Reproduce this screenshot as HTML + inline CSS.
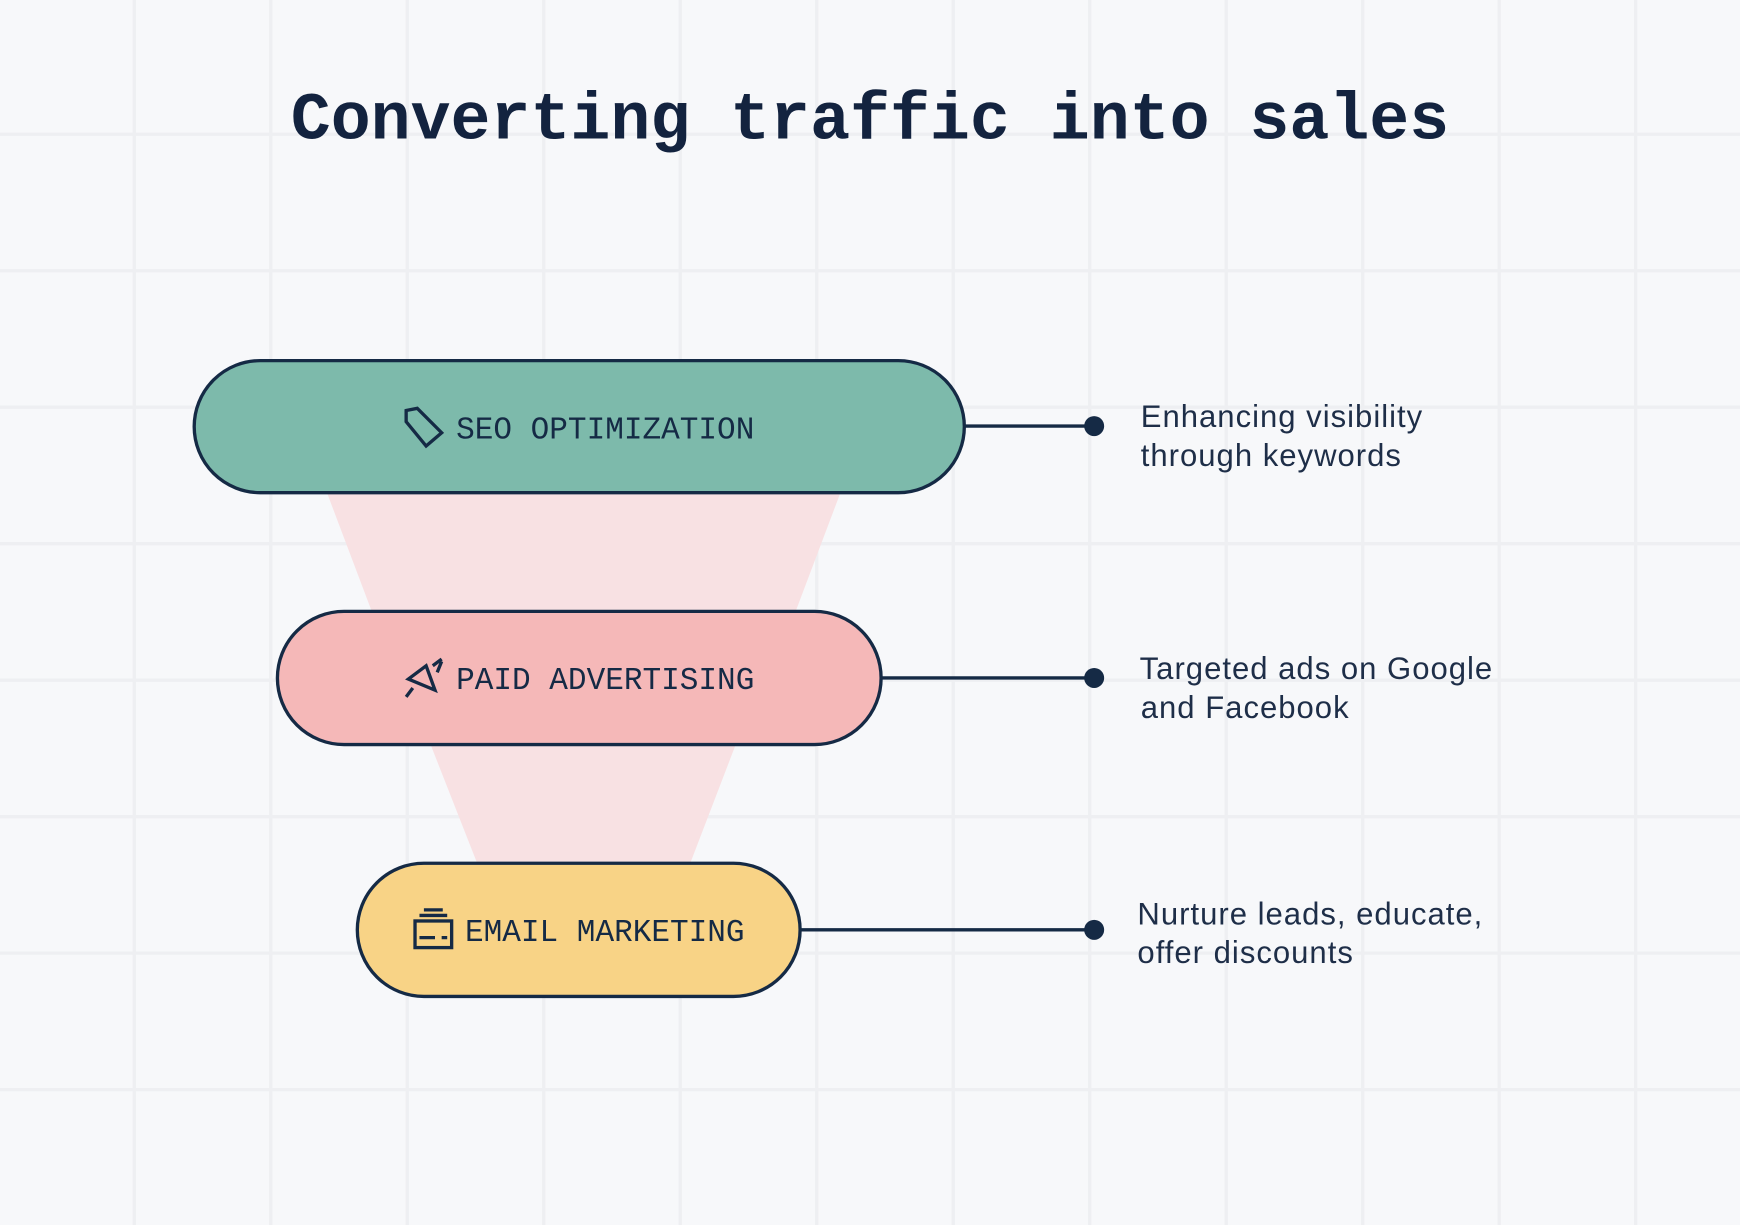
<!DOCTYPE html>
<html><head><meta charset="utf-8"><style>
html,body{margin:0;padding:0;background:#f7f8fa;}
svg{display:block}
</style></head><body>
<svg width="1740" height="1225" viewBox="0 0 1568 1104" preserveAspectRatio="none" xmlns="http://www.w3.org/2000/svg">
<rect width="1568" height="1104" fill="#f7f8fa"/>
<g stroke="#eeeff2" stroke-width="3">
<line x1="121" y1="0" x2="121" y2="1104"/><line x1="244" y1="0" x2="244" y2="1104"/><line x1="367" y1="0" x2="367" y2="1104"/><line x1="490" y1="0" x2="490" y2="1104"/><line x1="613" y1="0" x2="613" y2="1104"/><line x1="736" y1="0" x2="736" y2="1104"/><line x1="859" y1="0" x2="859" y2="1104"/><line x1="982" y1="0" x2="982" y2="1104"/><line x1="1105" y1="0" x2="1105" y2="1104"/><line x1="1228" y1="0" x2="1228" y2="1104"/><line x1="1351" y1="0" x2="1351" y2="1104"/><line x1="1474" y1="0" x2="1474" y2="1104"/>
<line x1="0" y1="121" x2="1568" y2="121"/><line x1="0" y1="244" x2="1568" y2="244"/><line x1="0" y1="367" x2="1568" y2="367"/><line x1="0" y1="490" x2="1568" y2="490"/><line x1="0" y1="613" x2="1568" y2="613"/><line x1="0" y1="736" x2="1568" y2="736"/><line x1="0" y1="859" x2="1568" y2="859"/><line x1="0" y1="982" x2="1568" y2="982"/>
</g>
<text x="784" y="125" text-anchor="middle" font-family="Liberation Mono, monospace" font-weight="bold" font-size="60" fill="#13233f">Converting traffic into sales</text>
<polygon points="295,445 757,445 717,551 335,551" fill="#f8e1e3"/>
<polygon points="388,671 663,671 622,778 430,778" fill="#f8e1e3"/>
<g stroke="#152a45" stroke-width="3">
<rect x="175" y="325" width="694" height="119" rx="59.5" fill="#7dbaab"/>
<rect x="250" y="551" width="544" height="120" rx="60" fill="#f5b8b8"/>
<rect x="322" y="778" width="399" height="120" rx="60" fill="#f8d386"/>
<line x1="869" y1="384" x2="986" y2="384"/>
<line x1="794" y1="611" x2="986" y2="611"/>
<line x1="721" y1="838" x2="986" y2="838"/>
</g>
<g fill="#152a45"><circle cx="986" cy="384" r="9"/><circle cx="986" cy="611" r="9"/><circle cx="986" cy="838" r="9"/></g>
<g font-family="Liberation Mono, monospace" font-size="28" fill="#152a45">
<text x="411" y="395">SEO OPTIMIZATION</text>
<text x="411" y="621">PAID ADVERTISING</text>
<text x="419" y="848">EMAIL MARKETING</text>
</g>
<g fill="none" stroke="#152a45" stroke-width="3">
<path d="M366,370 L376,368 L398,390 L384,402 L366,380 Z"/>
<path d="M368,612 L384,600 L392,622 Z M372,620 L366,628 M390,600 L398,594 M394,606 L398,596"/>
<rect x="374" y="830" width="33" height="24"/>
<path d="M378,825 H403 M382,820 H399 M378,845 H392 M398,845 H403"/>
</g>
<g font-family="Liberation Sans, sans-serif" font-size="28" letter-spacing="0.9" fill="#1e2e48">
<text x="1028" y="385">Enhancing visibility</text>
<text x="1028" y="420">through keywords</text>
<text x="1027" y="612">Targeted ads on Google</text>
<text x="1028" y="647">and Facebook</text>
<text x="1025" y="833">Nurture leads, educate,</text>
<text x="1025" y="868">offer discounts</text>
</g>
</svg>
</body></html>
